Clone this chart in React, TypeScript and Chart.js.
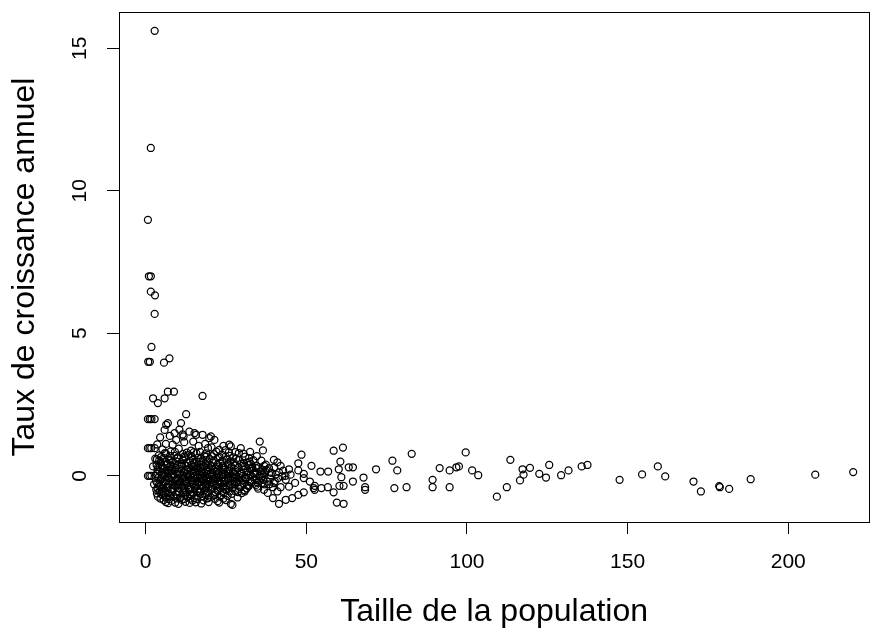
import React, { useEffect, useRef } from "react";
import { Chart, registerables } from "chart.js";

Chart.register(...registerables);

const xTickValues = [0, 50, 100, 150, 200];
const yTickValues = [0, 5, 10, 15];
const xTitle = "Taille de la population";
const yTitle = "Taux de croissance annuel";

// small populations with large growth, and the left-hand columns
const highPop = [2.8, 1.6, 0.7, 1.0, 1.6, 1.6, 2.9, 2.8, 1.8, 0.8, 1.3, 5.7, 7.4, 2.3, 3.8, 5.9, 6.9, 8.8, 17.7, 0.7, 1.3, 1.8, 2.8, 12.6, 6.9, 11.0, 6.4, 5.9, 9.0, 13.6, 15.7, 17.7, 19.8, 21.4, 9.5, 8.4, 6.3, 12.0, 26.5, 29.6, 22.9, 0.7, 1.2, 1.75, 2.8, 0.7, 1.2, 1.8, 4.5, 7.5, 10.5, 11.8, 14.8, 16.5, 18.5, 20.5, 24.2, 3.6, 11.5, 15.2, 20.3, 26.0, 2.3, 2.6, 3.0, 3.5, 27.0];
const highGrowth = [15.61, 11.5, 8.98, 7.0, 7.0, 6.46, 6.33, 5.68, 4.52, 4.0, 4.0, 3.97, 4.12, 2.72, 2.55, 2.72, 2.95, 2.95, 2.8, 1.99, 1.99, 1.99, 1.99, 2.16, 1.85, 1.85, 1.79, 1.61, 1.5, 1.55, 1.44, 1.44, 1.32, 1.26, 1.26, 1.09, 1.12, 1.18, 1.03, 0.97, 0.91, 0.97, 0.97, 0.97, 0.97, 0.0, 0.0, 0.0, 1.35, 1.4, 1.62, 1.38, 1.2, 1.05, 1.12, 1.0, 1.05, 1.1, 1.45, 1.5, 1.38, 1.09, 0.33, -0.3, 0.6, -0.62, -1.02];

// dense core
const corePop = [
  5.2, 7.8, 10.3, 14.1, 16.9, 19.4, 24.8, 27.9,
  4.1, 6.3, 8.9, 11.6, 13.2, 15.8, 18.2, 21.3, 23.7, 26.1, 30.4,
  3.5, 5.6, 7.2, 9.8, 12.4, 14.7, 17.1, 19.9, 22.5, 25.3, 28.2, 33.5,
  4.6, 6.9, 8.4, 10.9, 12.9, 15.1, 16.6, 18.7, 20.8, 23.1, 25.9, 27.4, 29.8, 31.5,
  3.9, 5.3, 7.6, 9.3, 11.2, 13.6, 14.9, 16.2, 18.1, 19.7, 21.6, 22.9, 24.4, 26.7, 28.8, 30.9, 33.2, 35.1,
  4.3, 6.1, 8.1, 10.1, 11.8, 13.1, 15.5, 17.4, 18.9, 20.3, 22.1, 23.8, 25.5, 27.2, 29.3, 31.7, 34.0, 37.2,
  3.1, 5.0, 6.7, 8.8, 10.6, 12.2, 13.8, 15.3, 16.8, 18.4, 20.0, 21.8, 23.4, 24.9, 26.4, 28.1, 30.1, 32.6, 35.4, 38.9,
  4.7, 7.3, 9.6, 11.4, 14.3, 17.0, 19.2, 21.1, 22.7, 25.7, 27.6, 29.0, 31.2, 33.9,
  3.6, 5.9, 8.3, 10.4, 12.7, 14.5, 16.4, 18.6, 20.6, 23.3, 24.6, 26.9, 28.5, 30.6, 33.0, 36.2,
  4.4, 6.6, 9.0, 11.0, 13.4, 15.6, 17.8, 19.5, 21.9, 24.1, 26.2, 29.5, 32.1, 34.7,
  3.3, 5.5, 7.9, 10.0, 12.1, 14.0, 16.1, 18.3, 20.4, 22.3, 25.0, 27.8, 30.8,
  4.9, 7.1, 9.4, 11.7, 13.9, 16.7, 19.0, 21.5, 24.3, 26.8, 29.9,
  3.8, 6.2, 8.6, 10.8, 13.0, 15.2, 17.6, 20.2, 23.0, 28.6,
  5.6, 8.0, 11.3, 14.6, 18.0, 22.4, 25.0,
  7.0, 10.2, 13.7, 17.3, 26.5,
];
const coreGrowth = [
  0.93, 0.86, 0.95, 0.88, 0.84, 0.97, 0.9, 0.83,
  0.72, 0.78, 0.7, 0.77, 0.73, 0.79, 0.71, 0.76, 0.74, 0.7, 0.78,
  0.58, 0.63, 0.57, 0.61, 0.65, 0.56, 0.62, 0.59, 0.64, 0.57, 0.6, 0.55,
  0.47, 0.43, 0.49, 0.41, 0.46, 0.44, 0.5, 0.42, 0.47, 0.45, 0.4, 0.48, 0.43, 0.46,
  0.31, 0.27, 0.33, 0.29, 0.35, 0.26, 0.32, 0.28, 0.34, 0.3, 0.25, 0.33, 0.29, 0.31, 0.27, 0.34, 0.28, 0.3,
  0.16, 0.12, 0.18, 0.14, 0.11, 0.19, 0.15, 0.13, 0.17, 0.1, 0.16, 0.12, 0.18, 0.14, 0.11, 0.17, 0.13, 0.15,
  0.0, 0.03, -0.02, 0.01, 0.04, -0.03, 0.02, 0.0, 0.05, -0.01, 0.03, -0.04, 0.01, 0.04, -0.02, 0.02, 0.0, 0.03, -0.01, 0.02,
  -0.12, -0.09, -0.15, -0.11, -0.14, -0.08, -0.13, -0.1, -0.16, -0.12, -0.09, -0.14, -0.11, -0.13,
  -0.26, -0.22, -0.28, -0.24, -0.21, -0.27, -0.25, -0.29, -0.23, -0.26, -0.2, -0.28, -0.24, -0.27, -0.22, -0.25,
  -0.37, -0.4, -0.35, -0.39, -0.42, -0.36, -0.38, -0.41, -0.34, -0.39, -0.37, -0.4, -0.36, -0.38,
  -0.49, -0.52, -0.47, -0.53, -0.5, -0.48, -0.54, -0.51, -0.46, -0.52, -0.49, -0.53, -0.5,
  -0.63, -0.6, -0.65, -0.61, -0.64, -0.59, -0.62, -0.66, -0.6, -0.63, -0.61,
  -0.73, -0.76, -0.72, -0.77, -0.74, -0.78, -0.71, -0.75, -0.73, -0.76,
  -0.85, -0.88, -0.84, -0.87, -0.86, -0.89, -0.85,
  -0.96, -0.98, -0.95, -0.97, -0.98,
];

// further points that fill the core
const fillPop = [
  6.0, 9.1, 12.8, 15.0, 18.8, 22.0, 25.9, 29.0, 32.5,
  4.8, 7.5, 10.1, 12.0, 14.2, 16.3, 18.9, 20.7, 23.0, 24.9, 27.3, 31.0, 34.6,
  4.2, 6.0, 7.8, 9.5, 11.5, 13.8, 15.9, 17.8, 19.3, 21.2, 23.9, 26.4, 28.9, 32.3, 36.0,
  3.4, 5.0, 6.4, 8.0, 9.9, 11.3, 12.6, 14.3, 15.7, 17.2, 18.8, 20.4, 22.2, 24.0, 25.6, 27.8, 30.0, 32.1, 34.4,
  3.7, 4.9, 6.5, 7.7, 9.0, 10.4, 12.5, 14.0, 15.1, 16.5, 17.9, 19.3, 20.9, 22.5, 24.1, 26.0, 27.9, 30.4, 32.8, 36.5,
  3.4, 5.6, 7.2, 8.5, 9.8, 11.4, 12.9, 14.5, 16.1, 17.7, 19.2, 20.8, 22.6, 24.2, 25.8, 27.6, 29.8, 31.4, 33.6, 36.8,
  4.0, 5.7, 7.0, 8.2, 9.9, 11.9, 13.3, 14.8, 16.3, 17.6, 19.0, 20.6, 22.4, 23.9, 25.6, 27.1, 28.9, 31.0, 33.3, 36.0,
  3.2, 5.3, 6.5, 8.0, 9.2, 10.8, 12.4, 13.9, 15.4, 16.9, 18.2, 19.9, 21.5, 23.0, 24.4, 26.4, 28.3, 30.2, 32.5, 35.3,
  4.2, 5.5, 7.1, 8.8, 10.0, 11.6, 13.0, 14.7, 16.1, 17.5, 19.1, 20.9, 22.6, 24.3, 25.9, 27.7, 29.4, 31.6,
  3.7, 5.1, 6.9, 8.5, 10.3, 12.0, 13.7, 15.3, 17.0, 18.8, 20.6, 23.1, 24.8, 27.0, 29.0, 31.5,
  4.3, 6.3, 8.2, 10.4, 12.6, 14.8, 17.1, 19.4, 21.7, 23.8, 26.2, 28.7,
  5.3, 7.6, 9.9, 12.3, 14.3, 16.2, 18.6, 21.0, 23.5, 25.5,
  4.6, 7.2, 9.6, 12.0, 13.8, 16.0, 19.3, 21.6, 24.2,
  6.3, 9.2, 12.4, 15.6, 19.6, 22.9,
];
const fillGrowth = [
  0.8, 0.84, 0.81, 0.83, 0.79, 0.85, 0.82, 0.8, 0.84,
  0.66, 0.69, 0.65, 0.68, 0.7, 0.64, 0.67, 0.69, 0.66, 0.68, 0.65, 0.67, 0.69,
  0.53, 0.5, 0.54, 0.51, 0.55, 0.52, 0.49, 0.53, 0.5, 0.54, 0.52, 0.51, 0.55, 0.5, 0.53,
  0.38, 0.36, 0.39, 0.35, 0.37, 0.4, 0.36, 0.38, 0.34, 0.39, 0.37, 0.35, 0.38, 0.36, 0.4, 0.37, 0.35, 0.38, 0.36,
  0.22, 0.24, 0.2, 0.23, 0.21, 0.25, 0.22, 0.19, 0.23, 0.21, 0.24, 0.2, 0.22, 0.25, 0.21, 0.23, 0.2, 0.22, 0.24, 0.21,
  0.07, 0.05, 0.09, 0.06, 0.08, 0.04, 0.07, 0.09, 0.05, 0.08, 0.06, 0.07, 0.09, 0.05, 0.08, 0.06, 0.07, 0.04, 0.08, 0.06,
  -0.06, -0.04, -0.07, -0.05, -0.08, -0.06, -0.04, -0.07, -0.05, -0.06, -0.08, -0.04, -0.07, -0.05, -0.06, -0.08, -0.05, -0.07, -0.04, -0.06,
  -0.18, -0.2, -0.17, -0.19, -0.16, -0.2, -0.18, -0.17, -0.19, -0.21, -0.18, -0.16, -0.19, -0.2, -0.17, -0.18, -0.2, -0.16, -0.19, -0.18,
  -0.31, -0.33, -0.3, -0.32, -0.29, -0.31, -0.34, -0.3, -0.32, -0.33, -0.29, -0.31, -0.3, -0.33, -0.32, -0.3, -0.31, -0.33,
  -0.44, -0.46, -0.43, -0.45, -0.42, -0.44, -0.47, -0.43, -0.45, -0.44, -0.46, -0.42, -0.45, -0.43, -0.46, -0.44,
  -0.56, -0.58, -0.55, -0.57, -0.56, -0.59, -0.55, -0.57, -0.58, -0.56, -0.55, -0.57,
  -0.68, -0.7, -0.67, -0.69, -0.68, -0.7, -0.67, -0.69, -0.68, -0.7,
  -0.8, -0.82, -0.79, -0.81, -0.8, -0.82, -0.79, -0.81, -0.8,
  -0.92, -0.94, -0.91, -0.93, -0.92, -0.94,
];

// tail of the core, populations 30-45
const tailPop = [30.5, 32.0, 33.8, 35.0, 36.3, 37.6, 38.8, 40.2, 41.5, 42.8, 31.2, 33.0, 34.9, 36.9, 38.5, 40.0, 42.0, 43.5, 30.8, 32.7, 34.5, 37.0, 39.2, 41.2];
const tailGrowth = [0.45, -0.35, 0.1, -0.45, 0.05, 0.2, -0.1, -0.2, 0.12, 0.18, -0.05, 0.25, -0.25, 0.35, -0.3, 0.3, -0.4, 0.0, -0.55, 0.42, -0.15, -0.3, 0.1, -0.08];

// mid-size populations
const midPop = [35.5, 36.5, 48.5, 58.5, 61.4, 60.6, 47.5, 51.6, 54.4, 56.8, 60.1, 63.2, 64.5, 67.8, 68.3, 68.3, 64.5, 60.9, 61.6, 59.5, 61.6, 56.7, 58.5, 60.3, 54.7, 52.6, 52.6, 49.2, 47.5, 45.6, 43.6, 41.5, 39.6, 39.6, 49.2, 49.2, 44.6, 45.1, 47.5, 42.5, 39.9, 41.0, 32.2, 37.4, 38.4, 34.3, 35.8, 36.5, 37.8, 34.3, 36.8, 39.9, 43.6, 44.6, 51.1, 52.3, 40.5, 42.0, 46.5, 38.0, 41.0];
const midGrowth = [1.2, 0.89, 0.74, 0.88, 0.99, 0.5, 0.44, 0.35, 0.15, 0.15, 0.23, 0.3, 0.3, -0.06, -0.4, -0.49, -0.2, -0.05, -0.35, -0.94, -0.98, -0.4, -0.58, -0.35, -0.43, -0.35, -0.49, -0.58, -0.67, -0.78, -0.84, -0.98, -0.78, -0.4, -0.08, 0.07, 0.23, 0.04, 0.19, -0.02, 0.56, 0.47, 0.62, 0.39, 0.27, 0.27, 0.15, -0.14, -0.2, -0.32, -0.49, -0.26, -0.14, -0.38, -0.2, -0.43, 0.05, 0.35, -0.25, -0.6, -0.55];

// large populations
const farPop = [71.7, 76.8, 78.3, 82.8, 77.4, 81.2, 89.3, 89.3, 91.5, 94.6, 94.6, 96.7, 97.5, 99.6, 101.6, 103.5, 109.3, 112.4, 113.5, 116.5, 117.3, 117.6, 119.6, 122.5, 124.6, 125.6, 129.3, 131.6, 135.7, 137.5, 147.5, 154.5, 159.4, 161.7, 170.5, 172.8, 178.5, 178.7, 181.6, 188.3, 208.4, 220.2];
const farGrowth = [0.23, 0.53, 0.19, 0.77, -0.43, -0.4, -0.14, -0.4, 0.27, 0.19, -0.4, 0.3, 0.33, 0.82, 0.19, 0.02, -0.73, -0.4, 0.56, -0.16, 0.23, 0.04, 0.28, 0.07, -0.06, 0.38, 0.02, 0.19, 0.33, 0.38, -0.14, 0.05, 0.33, -0.02, -0.2, -0.55, -0.36, -0.4, -0.46, -0.12, 0.04, 0.13];

const FONT = "'Liberation Sans', Arial, sans-serif";

function pairs(xs: number[], ys: number[]) {
  return xs.map((x, i) => ({ x, y: ys[i] }));
}

const boxPlugin = {
  id: "rbox",
  afterDraw(chart: any) {
    const { ctx, chartArea: a } = chart;
    ctx.save();
    ctx.strokeStyle = "#000";
    ctx.lineWidth = 1;
    ctx.strokeRect(Math.round(a.left) + 0.5, Math.round(a.top) + 0.5, Math.round(a.right - a.left), Math.round(a.bottom - a.top));
    ctx.restore();
  },
};

export default function App() {
  const ref = useRef<HTMLCanvasElement | null>(null);
  useEffect(() => {
    document.body.style.margin = "0";
    const data = [
      ...pairs(highPop, highGrowth),
      ...pairs(corePop, coreGrowth),
      ...pairs(fillPop, fillGrowth),
      ...pairs(tailPop, tailGrowth),
      ...pairs(midPop, midGrowth),
      ...pairs(farPop, farGrowth),
    ];
    const chart = new Chart(ref.current as HTMLCanvasElement, {
      type: "scatter",
      data: {
        datasets: [
          {
            data,
            pointRadius: 3.5,
            pointHoverRadius: 3.5,
            pointBorderWidth: 1.25,
            borderColor: "#000",
            backgroundColor: "rgba(0,0,0,0)",
            pointBorderColor: "#000",
            pointBackgroundColor: "rgba(0,0,0,0)",
            showLine: false,
          },
        ],
      },
      options: {
        animation: false,
        responsive: true,
        maintainAspectRatio: false,
        events: [],
        layout: { padding: { top: 12, right: 1, left: 0, bottom: 0 } },
        plugins: { legend: { display: false }, tooltip: { enabled: false } },
        scales: {
          x: {
            type: "linear",
            min: -8.3,
            max: 225.2,
            afterBuildTicks: (s: any) => {
              s.ticks = xTickValues.map((v) => ({ value: v }));
            },
            afterFit: (s: any) => {
              s.height = 108;
              s.paddingLeft = 0;
              s.paddingRight = 0;
            },
            grid: { drawOnChartArea: false, drawTicks: true, tickLength: 12, color: "#000", tickColor: "#000", lineWidth: 1 },
            border: { display: true, color: "#000", width: 1 },
            ticks: { color: "#000", font: { family: FONT, size: 21 }, padding: 16, maxRotation: 0, minRotation: 0, autoSkip: false, callback: (v: any) => String(v) },
            title: { display: true, text: xTitle, color: "#000", font: { family: FONT, size: 32 }, padding: { top: 0, bottom: -1 } },
          },
          y: {
            type: "linear",
            min: -1.62,
            max: 16.27,
            afterBuildTicks: (s: any) => {
              s.ticks = yTickValues.map((v) => ({ value: v }));
            },
            afterFit: (s: any) => {
              s.width = 119;
              s.paddingTop = 0;
              s.paddingBottom = 0;
            },
            grid: { drawOnChartArea: false, drawTicks: true, tickLength: 12, color: "#000", tickColor: "#000", lineWidth: 1 },
            border: { display: true, color: "#000", width: 1 },
            ticks: { color: "#000", font: { family: FONT, size: 21 }, padding: 15, minRotation: 90, maxRotation: 90, crossAlign: "center", autoSkip: false, callback: (v: any) => String(v) },
            title: { display: true, text: yTitle, color: "#000", font: { family: FONT, size: 32 }, padding: { top: 6, bottom: 0 } },
          },
        },
      },
      plugins: [boxPlugin],
    } as any);
    return () => chart.destroy();
  }, []);
  return (
    <div style={{ position: "absolute", left: 0, top: 0, width: 874, height: 630 }}>
      <canvas ref={ref} />
    </div>
  );
}
